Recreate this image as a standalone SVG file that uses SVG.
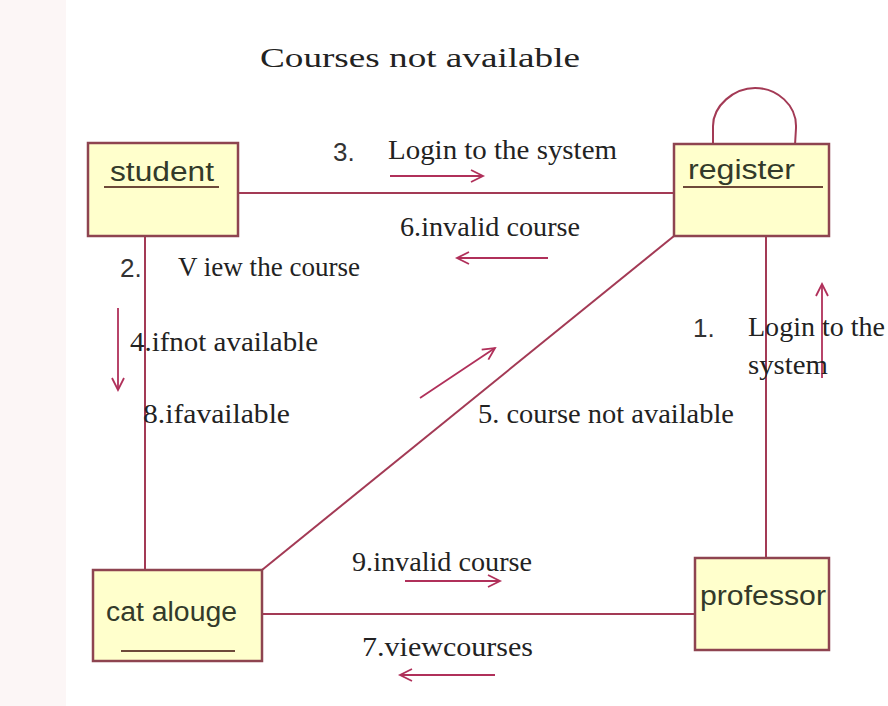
<svg xmlns="http://www.w3.org/2000/svg" width="888" height="706" viewBox="0 0 888 706">
<defs>
<style>
.bg{fill:#ffffff}
.strip{fill:#fcf6f6}
.box{fill:#ffffcc;stroke:#8e4450;stroke-width:2.5}
.ul{stroke:#6e4a3a;stroke-width:2}
.conn{fill:none;stroke:#a33a55;stroke-width:2}
.msg{fill:none;stroke:#b0305a;stroke-width:1.8}
.nt{font-family:"Liberation Sans",Arial,sans-serif;font-size:27px;fill:#333a2a}
.lb{font-family:"Liberation Serif","Times New Roman",serif;font-size:27px;fill:#222}
.num{font-family:"Liberation Sans",Arial,sans-serif;font-size:26px;fill:#333}
</style>
<marker id="ah" markerWidth="16" markerHeight="16" refX="13" refY="8" orient="auto" markerUnits="userSpaceOnUse">
<polyline points="1,2 13,8 1,14" fill="none" stroke="#b0305a" stroke-width="1.8"/>
</marker>
</defs>
<rect class="bg" x="0" y="0" width="888" height="706"/>
<rect class="strip" x="0" y="0" width="66" height="706"/>

<text class="lb" x="260" y="67" font-size="36" textLength="320" lengthAdjust="spacingAndGlyphs">Courses not available</text>

<g id="connectors">
<line class="conn" x1="238" y1="193" x2="674" y2="193"/>
<line class="conn" x1="145" y1="236" x2="145" y2="570"/>
<line class="conn" x1="766" y1="236" x2="766" y2="558"/>
<line class="conn" x1="262" y1="570" x2="674" y2="236"/>
<line class="conn" x1="262" y1="614" x2="695" y2="614"/>
<path class="conn" d="M713,145 L713,128 C712,105 735,88 755,88 C777,88 797,105 796,128 L795,145"/>
</g>

<g id="messages">
<line class="msg" x1="390" y1="176" x2="483" y2="176" marker-end="url(#ah)"/>
<line class="msg" x1="548" y1="258" x2="457" y2="258" marker-end="url(#ah)"/>
<line class="msg" x1="118" y1="308" x2="118" y2="390" marker-end="url(#ah)"/>
<line class="msg" x1="420" y1="398" x2="495" y2="348" marker-end="url(#ah)"/>
<line class="msg" x1="822" y1="378" x2="822" y2="284" marker-end="url(#ah)"/>
<line class="msg" x1="405" y1="581" x2="500" y2="581" marker-end="url(#ah)"/>
<line class="msg" x1="495" y1="675" x2="400" y2="675" marker-end="url(#ah)"/>
</g>

<g id="labels">
<text class="num" x="333" y="161">3.</text>
<text class="lb" x="388" y="159" textLength="229" lengthAdjust="spacingAndGlyphs">Login to the system</text>
<text class="lb" x="400" y="236" textLength="180" lengthAdjust="spacingAndGlyphs">6.invalid course</text>
<text class="num" x="120" y="277">2.</text>
<text class="lb" x="178" y="276" textLength="182" lengthAdjust="spacingAndGlyphs">V iew the course</text>
<text class="lb" x="130" y="351" textLength="188" lengthAdjust="spacingAndGlyphs">4.ifnot available</text>
<text class="lb" x="143" y="423" textLength="147" lengthAdjust="spacingAndGlyphs">8.ifavailable</text>
<text class="lb" x="478" y="423" textLength="256" lengthAdjust="spacingAndGlyphs">5. course not available</text>
<text class="num" x="693" y="337">1.</text>
<text class="lb" x="748" y="336" textLength="137" lengthAdjust="spacingAndGlyphs">Login to the</text>
<text class="lb" x="748" y="374" textLength="80" lengthAdjust="spacingAndGlyphs">system</text>
<text class="lb" x="352" y="571" textLength="180" lengthAdjust="spacingAndGlyphs">9.invalid course</text>
<text class="lb" x="362" y="656" textLength="171" lengthAdjust="spacingAndGlyphs">7.viewcourses</text>
</g>

<g id="student">
<rect class="box" x="88" y="143" width="150" height="93"/>
<text class="nt" x="110" y="181" textLength="104" lengthAdjust="spacingAndGlyphs">student</text>
<line class="ul" x1="104" y1="187" x2="219" y2="187"/>
</g>

<g id="register">
<rect class="box" x="674" y="144" width="155" height="92"/>
<text class="nt" x="688" y="179" textLength="107" lengthAdjust="spacingAndGlyphs">register</text>
<line class="ul" x1="683" y1="187" x2="823" y2="187"/>
</g>

<g id="catalouge">
<rect class="box" x="93" y="570" width="169" height="91"/>
<text class="nt" x="106" y="621" textLength="131" lengthAdjust="spacingAndGlyphs">cat alouge</text>
<line class="ul" x1="121" y1="651" x2="235" y2="651"/>
</g>

<g id="professor">
<rect class="box" x="695" y="558" width="134" height="92"/>
<text class="nt" x="700" y="605" textLength="126" lengthAdjust="spacingAndGlyphs">professor</text>
</g>
</svg>
